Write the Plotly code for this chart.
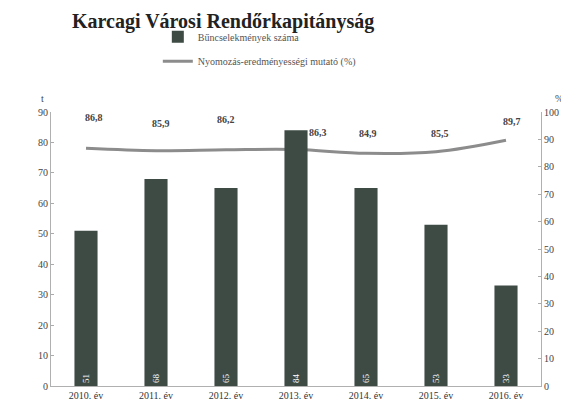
import plotly.graph_objects as go

categories = ["2010. év", "2011. év", "2012. év", "2013. év", "2014. év", "2015. év", "2016. év"]
crimes = [51, 68, 65, 84, 65, 53, 33]
rate = [86.8, 85.9, 86.2, 86.3, 84.9, 85.5, 89.7]
rate_labels = ["86,8", "85,9", "86,2", "86,3", "84,9", "85,5", "89,7"]

SERIF = "Liberation Serif"

fig = go.Figure()
fig.add_trace(go.Scatter(
    x=categories, y=rate, yaxis="y", mode="lines",
    line=dict(shape="spline", color="#8c8c8c", width=3),
    name="Nyomozás-eredményességi mutató (%)", legend="legend2",
))
fig.add_trace(go.Bar(
    x=categories, y=crimes, yaxis="y2",
    marker=dict(color="#3e4b45", line=dict(width=0)),
    text=[str(v) for v in crimes], textposition="inside",
    insidetextanchor="start", textangle=-90,
    textfont=dict(color="white", size=9, family=SERIF),
    name="Bűncselekmények száma", legend="legend",
))

# line value labels
shifts = [(8, 31), (5, 27), (0, 30), (22, 17), (2, 20), (4, 18), (6, 19)]
annotations = []
for c, v, lab, (dx, dy) in zip(categories, rate, rate_labels, shifts):
    annotations.append(dict(
        x=c, y=v, xref="x", yref="y", text=f"<b>{lab}</b>", showarrow=False,
        xshift=dx, yshift=dy, font=dict(family=SERIF, size=10, color="#444"),
    ))

annotations += [
    dict(x=0.351, y=1.3796, xref="paper", yref="paper", xanchor="center", yanchor="top",
         text="<b>Karcagi Városi Rendőrkapitányság</b>", showarrow=False,
         font=dict(family=SERIF, size=20, color="#222")),
    dict(x=-0.024, y=1.075, xref="paper", yref="paper", text="t", showarrow=False,
         font=dict(family=SERIF, size=10, color="#444")),
    dict(x=1.049, y=1.075, xref="paper", yref="paper", text="%", showarrow=False,
         font=dict(family=SERIF, size=10, color="#444")),
]

tickfont = dict(family=SERIF, size=10, color="#444")

fig.update_layout(
    width=569, height=406,
    margin=dict(l=43, r=36, t=104, b=28),
    paper_bgcolor="white", plot_bgcolor="white",
    bargap=0.67,
    xaxis=dict(showline=True, linecolor="#b0b0b0", linewidth=1, ticks="",
               tickfont=dict(family=SERIF, size=10, color="#333"), showgrid=False),
    yaxis=dict(side="right", range=[0, 100], dtick=10, showgrid=False, zeroline=False,
               showline=True, linecolor="#b0b0b0", linewidth=1, ticks="inside", ticklen=3,
               tickcolor="#aaa", tickfont=tickfont),
    yaxis2=dict(side="left", overlaying="y", range=[0, 90], dtick=10, showgrid=False,
                zeroline=False, showline=True, linecolor="#b0b0b0", linewidth=1,
                ticks="inside", ticklen=3, tickcolor="#aaa", tickfont=tickfont),
    legend=dict(x=0.218, y=1.275, xanchor="left", yanchor="middle", bgcolor="rgba(0,0,0,0)",
                font=dict(family=SERIF, size=10, color="#555"), itemwidth=30),
    legend2=dict(x=0.218, y=1.185, xanchor="left", yanchor="middle", bgcolor="rgba(0,0,0,0)",
                 font=dict(family=SERIF, size=10, color="#555"), itemwidth=30),
    showlegend=True,
    annotations=annotations,
)

fig.write_html("out.html")
